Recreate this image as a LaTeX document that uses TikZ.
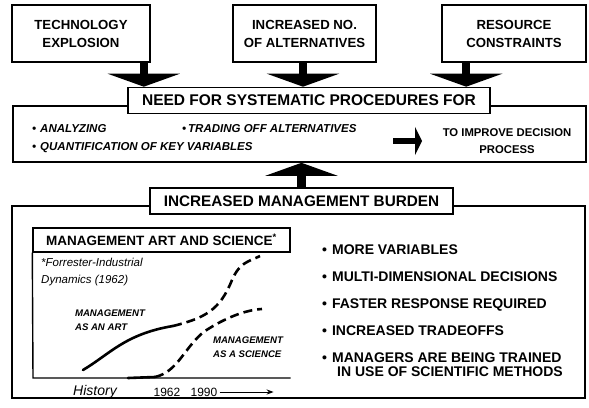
\documentclass[tikz,border=0pt]{standalone}
\usepackage{fontspec}
\setmainfont{Liberation Sans}
\usetikzlibrary{arrows.meta,positioning}

\tikzset{
  topbox/.style={draw,line width=1.6pt,fill=white,inner sep=0pt,align=center,
    minimum height=57pt,font=\bfseries\fontsize{13.2}{18}\selectfont},
  headbox/.style={draw,line width=1.6pt,fill=white,inner sep=0pt,minimum height=26pt},
  panel/.style={draw,line width=1.6pt,inner sep=0pt},
  fatarrow/.style={line width=8.5pt,-{Triangle[width=72pt,length=13pt]}},
  item/.style={anchor=west,inner sep=0pt,font=\bfseries\itshape\fontsize{11.5}{13}\selectfont},
  point/.style={anchor=west,inner sep=0pt,font=\bfseries\fontsize{14}{16}\selectfont},
  tag/.style={inner sep=0pt,align=left,font=\bfseries\itshape\fontsize{9.6}{14}\selectfont},
  artline/.style={line width=2.6pt,line cap=round},
  dashline/.style={line width=2.6pt,dash pattern=on 9pt off 5pt},
}

\begin{document}
\begin{tikzpicture}[x=1pt,y=-1pt]
  \useasboundingbox (0,0) rectangle (589,407);

  % the three sources on top
  \node[topbox,minimum width=138pt] (tech) at (81,33.5) {TECHNOLOGY\\EXPLOSION};
  \node[topbox,minimum width=143pt] (alts) at (304.5,33.5) {INCREASED NO.\\OF ALTERNATIVES};
  \node[topbox,minimum width=144pt] (res) at (514,33.5) {RESOURCE\\CONSTRAINTS};

  % middle panel with its title
  \node[panel,minimum width=573pt,minimum height=56pt] (mid) at (299.5,134) {};
  \node[headbox,minimum width=362pt,font=\bfseries\fontsize{15.5}{17}\selectfont]
    (need) at (309,100.5) {NEED FOR SYSTEMATIC PROCEDURES FOR};

  \draw[fatarrow] ([xshift=-7pt]tech.south east) -- ([xshift=-7pt]tech.south east |- need.north);
  \draw[fatarrow] ([xshift=-1.5pt]alts.south) -- ([xshift=-1.5pt]alts.south |- need.north);
  \draw[fatarrow] ([xshift=25pt]res.south west) -- ([xshift=25pt]res.south west |- need.north);

  \node[item] (anal) at (32,129) {\textbullet\hspace{4pt}ANALYZING};
  \node[item] (trade) at (182,129) {\textbullet\hspace{2pt}TRADING OFF ALTERNATIVES};
  \node[item] (quant) at (32,148) {\textbullet\hspace{4pt}QUANTIFICATION OF KEY VARIABLES};
  \node[align=center,inner sep=0pt,font=\bfseries\fontsize{11.3}{17}\selectfont]
    (goal) at (507,141) {TO IMPROVE DECISION\\PROCESS};
  \coordinate (go) at (393,141);
  \draw[line width=6pt,-{Triangle[width=28pt,length=7pt]}] (go) -- ++(29,0);

  % lower panel
  \node[panel,minimum width=573pt,minimum height=192pt] (low) at (298.5,302) {};
  \node[headbox,minimum width=303pt,font=\bfseries\fontsize{15.3}{17}\selectfont]
    (burden) at (301.5,201) {INCREASED MANAGEMENT BURDEN};
  \draw[fatarrow] (burden.north) -- (burden.north |- mid.south);

  % chart
  \node[draw,line width=1.4pt,inner sep=0pt,minimum width=257pt,minimum height=24pt,
    font=\bfseries\fontsize{13.5}{15}\selectfont] (chart) at (161.5,240) {MANAGEMENT ART AND SCIENCE\textsuperscript{*}};
  \coordinate (orig) at (33,378);
  \draw[line width=1.4pt] (chart.south west) -- (orig) -- (orig -| chart.east);
  \node[anchor=north west,inner sep=0pt,align=left,font=\itshape\fontsize{11.5}{17}\selectfont]
    (src) at (41,258) {*Forrester-Industrial\\Dynamics (1962)};
  \node[tag] (art) at (110,320) {MANAGEMENT\\AS AN ART};
  \node[tag] (sci) at (248,347) {MANAGEMENT\\AS A SCIENCE};
  \draw[artline] (83,370) .. controls (110,354) and (125,334) .. (173,326);
  \draw[dashline] (173,326) .. controls (205,318) and (220,310) .. (232,280)
    .. controls (240,262) and (248,262) .. (260,256);
  \draw[artline] (128,378) -- (155,377);
  \draw[dashline] (155,377) .. controls (178,372) and (185,346) .. (205,331)
    .. controls (225,318) and (245,310) .. (262,309);
  \node[inner sep=0pt,font=\itshape\fontsize{14}{16}\selectfont] (hist) at (95,392) {History};
  \node[inner sep=0pt,font=\fontsize{12}{14}\selectfont] (y62) at (167,392) {1962};
  \node[inner sep=0pt,font=\fontsize{12}{14}\selectfont] (y90) at (204,392) {1990};
  \draw[line width=1pt,-{Stealth[length=7pt]}] ([xshift=2pt]y90.east) -- ++(54,0);

  % reasons
  \node[point] (p1) at (322,250) {\textbullet\hspace{5pt}MORE VARIABLES};
  \node[point] (p2) at (322,277) {\textbullet\hspace{5pt}MULTI-DIMENSIONAL DECISIONS};
  \node[point] (p3) at (322,305) {\textbullet\hspace{5pt}FASTER RESPONSE REQUIRED};
  \node[point] (p4) at (322,331) {\textbullet\hspace{5pt}INCREASED TRADEOFFS};
  \node[point] (p5) at (322,358) {\textbullet\hspace{5pt}MANAGERS ARE BEING TRAINED};
  \node[point,below=9pt of p5.south west,anchor=west,xshift=15pt] (p6) {IN USE OF SCIENTIFIC METHODS};
\end{tikzpicture}
\end{document}
